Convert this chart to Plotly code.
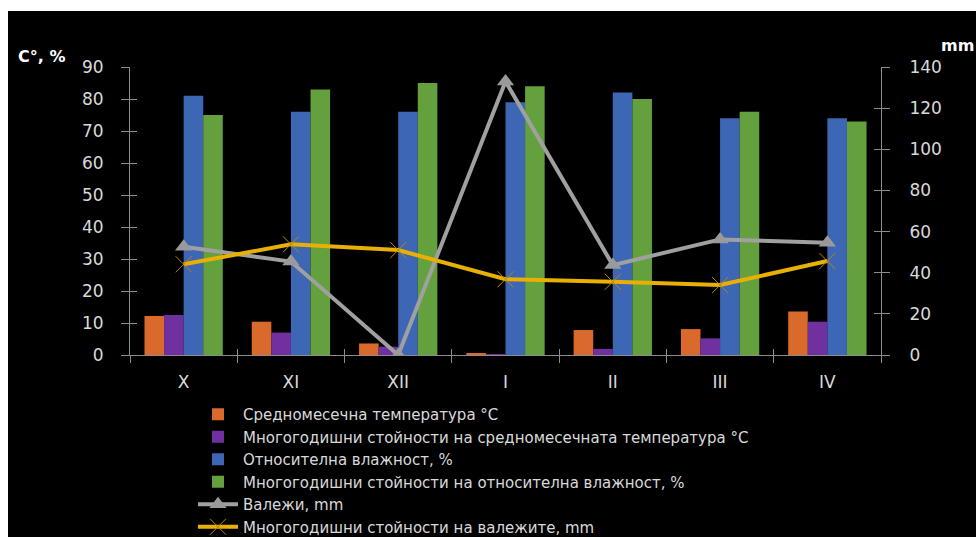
import plotly.graph_objects as go

months = ["X", "XI", "XII", "I", "II", "III", "IV"]
temp = [12.2, 10.4, 3.6, 0.5, 7.8, 8.1, 13.6]
temp_norm = [12.5, 7.0, 2.6, 0.3, 1.9, 5.2, 10.4]
humidity = [81, 76, 76, 79, 82, 74, 74]
humidity_norm = [75, 83, 85, 84, 80, 76, 73]
precip = [52.6, 45.4, 0, 133, 43.7, 56.2, 54.6]
precip_norm = [44.1, 53.8, 51.0, 36.8, 35.6, 34.0, 45.7]

names = [
    "Средномесечна температура °C",
    "Многогодишни стойности на средномесечната температура °C",
    "Относителна влажност, %",
    "Многогодишни стойности на относителна влажност, %",
    "Валежи, mm",
    "Многогодишни стойности на валежите, mm",
]

W, H = 976, 537
L, R, T, B = 130, 95, 67, 182
pw, ph = W - L - R, H - T - B

def px(x):
    return (x - L) / pw

def py(y):
    return (H - B - y) / ph

FONT = "DejaVu Sans"
TXT = "#D9D9D9"
AX = "#8C8C8C"

fig = go.Figure()
bar_specs = [
    (temp, "#D96A2C"),
    (temp_norm, "#7030A0"),
    (humidity, "#3D66B5"),
    (humidity_norm, "#64A03E"),
]
for (vals, col), nm in zip(bar_specs, names[:4]):
    fig.add_trace(go.Bar(x=months, y=vals, name=nm, marker=dict(color=col, line=dict(width=0)),
                         yaxis="y"))

fig.add_trace(go.Scatter(x=months, y=precip, name=names[4], yaxis="y2", mode="lines+markers",
                         line=dict(color="#A0A0A0", width=4),
                         marker=dict(symbol="triangle-up", size=15, color="#9A9A9A")))
fig.add_trace(go.Scatter(x=months, y=precip_norm, name=names[5], yaxis="y2", mode="lines+markers",
                         line=dict(color="#E8B000", width=4),
                         marker=dict(symbol="x-thin", size=16, color="#B8860B",
                                     line=dict(color="#B8860B", width=1))))
# invisible helper traces so the crossing-tick overlay axes are drawn
fig.add_trace(go.Scatter(x=[0], y=[0], xaxis="x2", yaxis="y3", mode="markers",
                         marker=dict(opacity=0), showlegend=False, hoverinfo="skip"))
fig.add_trace(go.Scatter(x=[0], y=[0], xaxis="x2", yaxis="y4", mode="markers",
                         marker=dict(opacity=0), showlegend=False, hoverinfo="skip"))

tickfont = dict(family=FONT, size=17, color=TXT)
fig.update_layout(
    width=W, height=H,
    margin=dict(l=L, r=R, t=T, b=B, autoexpand=False),
    paper_bgcolor="black", plot_bgcolor="black",
    barmode="group", bargap=0.27, bargroupgap=0,
    showlegend=True,
    legend=dict(x=px(193), y=py(398), xanchor="left", yanchor="top",
                font=dict(family=FONT, size=15, color=TXT),
                bgcolor="rgba(0,0,0,0)", itemwidth=40, tracegroupgap=0,
                traceorder="normal"),
    xaxis=dict(type="category", showline=True, linecolor=AX, linewidth=1,
               ticks="outside", ticklen=7, tickcolor=AX, tickson="boundaries",
               tickfont=dict(family=FONT, size=17, color=TXT), showgrid=False,
               zeroline=False, ticklabelstandoff=12),
    xaxis2=dict(overlaying="x", range=[-0.5, 6.5], showline=False, showgrid=False,
                zeroline=False, ticks="inside", ticklen=6, tickcolor=AX,
                tickvals=[-0.5, 0.5, 1.5, 2.5, 3.5, 4.5, 5.5, 6.5],
                showticklabels=False, anchor="y3"),
    yaxis=dict(range=[0, 90], dtick=10, showline=True, linecolor=AX, linewidth=1,
               ticks="outside", ticklen=8, tickcolor=AX, tickfont=tickfont,
               showgrid=False, zeroline=False, ticklabelstandoff=14),
    yaxis2=dict(range=[0, 140], dtick=20, overlaying="y", side="right", showline=True,
                linecolor=AX, linewidth=1, ticks="outside", ticklen=8, tickcolor=AX,
                tickfont=tickfont, showgrid=False, zeroline=False, ticklabelstandoff=16),
    yaxis3=dict(range=[0, 90], dtick=10, overlaying="y", side="left", showline=False,
                ticks="inside", ticklen=7, tickcolor=AX, showticklabels=False,
                showgrid=False, zeroline=False),
    yaxis4=dict(range=[0, 140], dtick=20, overlaying="y", side="right", showline=False,
                ticks="inside", ticklen=7, tickcolor=AX, showticklabels=False,
                showgrid=False, zeroline=False),
    shapes=[
        dict(type="rect", xref="paper", yref="paper", x0=-0.3, x1=1.3,
             y0=py(11), y1=py(-20), fillcolor="white", line=dict(width=0), layer="below"),
        dict(type="rect", xref="paper", yref="paper", x0=px(-20), x1=px(8),
             y0=py(560), y1=py(-20), fillcolor="white", line=dict(width=0), layer="below"),
    ],
    annotations=[
        dict(text="<b>C°, %</b>", xref="paper", yref="paper", x=px(16), y=py(57),
             xanchor="left", yanchor="middle", showarrow=False,
             font=dict(family=FONT, size=16, color="white")),
        dict(text="<b>mm</b>", xref="paper", yref="paper", x=px(939), y=py(46),
             xanchor="left", yanchor="middle", showarrow=False,
             font=dict(family=FONT, size=16, color="white")),
    ],
)

fig.write_html("out.html")
